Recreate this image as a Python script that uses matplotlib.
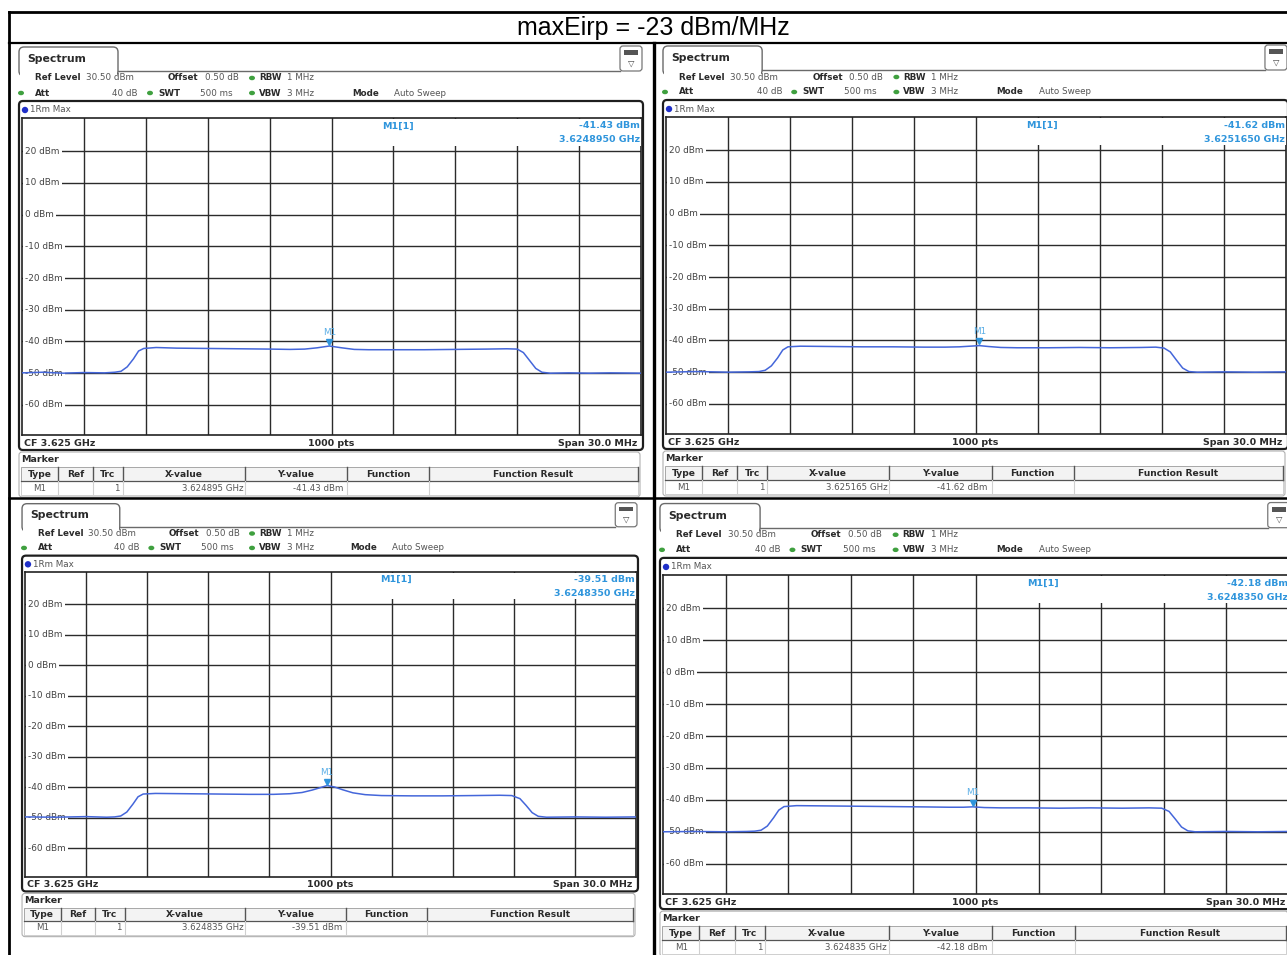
import matplotlib
matplotlib.use("Agg")
import matplotlib.pyplot as plt
from matplotlib.patches import FancyBboxPatch, Rectangle, Ellipse, Circle
import numpy as np

# ---------------- data ----------------
TITLE = "maxEirp = -23 dBm/MHz"
CENTER_GHZ = 3.625
SPAN_MHZ = 30.0
REF_LEVEL = 30.5
Y_TICKS = [20, 10, 0, -10, -20, -30, -40, -50, -60]
Y_TICK_LABELS = ["20 dBm", "10 dBm", "0 dBm", "-10 dBm", "-20 dBm", "-30 dBm",
                 "-40 dBm", "-50 dBm", "-60 dBm"]

TL_f = [-15, -14, -13, -12, -11, -10.5, -10.2, -9.9, -9.6, -9.35, -9.1, -8.5, -7.5, -6, -4.5, -3, -2,
        -1.3, -0.7, -0.105, 0.5, 1.1, 1.8, 3, 4.5, 6, 7.5, 8.5, 9.0, 9.3, 9.6, 9.9, 10.2, 10.6, 11.5,
        12.5, 13.5, 15]
TL_l = [-49.9, -49.7, -50.0, -49.8, -49.9, -49.7, -49.4, -48.0, -45.5, -43.0, -42.2, -41.9, -42.1,
        -42.2, -42.3, -42.4, -42.5, -42.4, -42.0, -41.43, -42.0, -42.5, -42.6, -42.6, -42.6, -42.5,
        -42.4, -42.3, -42.4, -43.5, -46.0, -48.5, -49.7, -50.0, -49.9, -50.0, -49.9, -50.0]

TR_f = [-15, -13.5, -12, -11, -10.5, -10.2, -9.9, -9.6, -9.35, -9.1, -8.5, -7, -5.5, -4, -2.5, -1.5,
        -0.8, -0.3, 0.165, 0.6, 1.2, 2, 3.5, 5, 6.5, 8, 8.7, 9.1, 9.4, 9.7, 10.0, 10.3, 10.7, 12,
        13.5, 15]
TR_l = [-50.0, -49.8, -50.0, -49.9, -49.8, -49.4, -48.0, -45.5, -43.0, -42.0, -41.8, -41.9, -42.0,
        -42.0, -42.1, -42.1, -42.0, -41.8, -41.62, -41.9, -42.2, -42.3, -42.3, -42.2, -42.3, -42.2,
        -42.1, -42.4, -43.6, -46.2, -48.7, -49.8, -50.0, -49.9, -50.0, -49.9]

BL_f = [-15, -13.5, -12, -11, -10.6, -10.3, -10.0, -9.7, -9.45, -9.2, -8.6, -7, -5.5, -4, -2.8, -2,
        -1.4, -0.9, -0.5, -0.165, 0.2, 0.6, 1.1, 1.7, 2.5, 4, 5.5, 7, 8.3, 8.9, 9.3, 9.6, 9.9, 10.2,
        10.6, 12, 13.5, 15]
BL_l = [-49.8, -49.9, -49.7, -49.9, -49.8, -49.5, -48.2, -45.6, -43.2, -42.3, -42.1, -42.2, -42.3,
        -42.4, -42.4, -42.2, -41.8, -41.0, -40.2, -39.51, -40.0, -40.9, -41.9, -42.5, -42.8, -42.9,
        -42.9, -42.8, -42.7, -42.8, -43.8, -46.0, -48.4, -49.6, -49.9, -49.8, -49.9, -49.8]

BR_f = [-15, -13.5, -12, -11, -10.6, -10.3, -10.0, -9.7, -9.45, -9.2, -8.6, -7, -5.5, -4, -2.5, -1.3,
        -0.6, -0.165, 0.4, 1.2, 2.5, 4, 5.5, 7, 8.3, 8.9, 9.25, 9.55, 9.85, 10.15, 10.5, 12, 13.5, 15]
BR_l = [-50.0, -49.9, -50.0, -49.9, -49.8, -49.5, -48.2, -45.6, -43.2, -42.1, -41.8, -41.9, -42.0,
        -42.1, -42.2, -42.3, -42.3, -42.18, -42.4, -42.5, -42.5, -42.6, -42.5, -42.6, -42.5, -42.6,
        -43.6, -46.0, -48.5, -49.7, -50.0, -49.9, -50.0, -49.9]

MARKER_X_GHZ = [3.624895, 3.625165, 3.624835, 3.624835]
MARKER_Y_DBM = [-41.43, -41.62, -39.51, -42.18]

ROW1 = [("Ref Level", 35, "bold"), ("30.50 dBm", 86, "normal"), ("Offset", 168, "bold"),
        ("0.50 dB", 205, "normal"), ("RBW", 259, "bold"), ("1 MHz", 287, "normal")]
ROW2 = [("Att", 35, "bold"), ("SWT", 158, "bold"), ("500 ms", 200, "normal"),
        ("VBW", 259, "bold"), ("3 MHz", 287, "normal"), ("Mode", 352, "bold"),
        ("Auto Sweep", 394, "normal")]
TABLE_HEAD = ["Type", "Ref", "Trc", "X-value", "Y-value", "Function", "Function Result"]
TABLE_COLS = [21, 58, 93, 123, 245, 347, 429, 638]

# ---------------- layout (pixel space) ----------------
W, H = 1287, 955
fig = plt.figure(figsize=(W / 100, H / 100), dpi=100)
bg = fig.add_axes([0, 0, 1, 1], zorder=0)
bg.set_xlim(0, W); bg.set_ylim(H, 0); bg.axis("off")
fg = fig.add_axes([0, 0, 1, 1], zorder=10)
fg.set_xlim(0, W); fg.set_ylim(H, 0); fg.axis("off"); fg.patch.set_alpha(0)

FONT = "DejaVu Sans"
TXT = "#2a2a2a"
VAL = "#555555"
BLUE = "#2f95dc"
TRACE = "#4466da"

panels = [
    dict(ox=22, oy=118, sx=1.0, sy=1.0, f=TL_f, l=TL_l),
    dict(ox=666, oy=117, sx=620 / 619, sy=1.0, f=TR_f, l=TR_l),
    dict(ox=25, oy=572, sx=611 / 619, sy=305 / 317, f=BL_f, l=BL_l),
    dict(ox=663, oy=575, sx=626 / 619, sy=319 / 317, f=BR_f, l=BR_l),
]


def draw_panel(p, mx_ghz, my_dbm):
    def T(x, y):
        return p["ox"] + p["sx"] * (x - 22), p["oy"] + p["sy"] * (y - 118)

    def box(ax, x0, y0, x1, y1, r=3, **kw):
        a, b = T(x0, y0); c, d = T(x1, y1)
        ax.add_patch(FancyBboxPatch((a, b), c - a, d - b,
                                    boxstyle=f"round,pad=0,rounding_size={r}", **kw))

    def text(ax, x, y, s, **kw):
        a, b = T(x, y)
        kw.setdefault("va", "center")
        kw.setdefault("family", FONT)
        ax.text(a, b, s, **kw)

    def dot(x, y):
        a, b = T(x, y)
        bg.add_patch(Ellipse((a, b), 6, 4.5, fc="#3fa03f", ec="none"))

    # tab
    box(bg, 19, 47, 118, 76, r=5, fc="white", ec="#6a6a6a", lw=1.0)
    a, b = T(20, 71); c, d = T(117, 80)
    bg.add_patch(Rectangle((a, b), c - a, d - b, fc="white", ec="none", zorder=3))
    a, b = T(118, 71); c, _ = T(620, 71)
    bg.plot([a, c], [b, b], color="#6a6a6a", lw=1.0, zorder=4)
    text(bg, 27, 59, "Spectrum", fontsize=7.8, weight="bold", color=TXT, zorder=5)
    # icon
    box(bg, 620, 46, 642, 71, r=3, fc="white", ec="#777", lw=0.9)
    a, b = T(624, 50); c, d = T(638, 55)
    bg.add_patch(Rectangle((a, b), c - a, d - b, fc="#555", ec="none", zorder=5))
    text(bg, 631, 63, "\u25BD", fontsize=6, ha="center", color="#444", zorder=5)

    # settings rows
    for s, x, wgt in ROW1:
        text(bg, x, 78, s, fontsize=6.3, weight=wgt, color=TXT if wgt == "bold" else VAL)
    for s, x, wgt in ROW2:
        text(bg, x, 93, s, fontsize=6.3, weight=wgt, color=TXT if wgt == "bold" else VAL)
    text(bg, 138, 93, "40 dB", fontsize=6.3, ha="right", color=VAL)
    dot(252, 78); dot(21, 93); dot(150, 93); dot(252, 93)

    # diagram frame
    box(bg, 19, 101, 643, 450, r=4, fc="white", ec="#1e1e1e", lw=1.6)
    a, b = T(25, 110)
    bg.add_patch(Circle((a, b), 3.2, fc="#1f2fc8", ec="none", zorder=5))
    text(bg, 30, 110, "1Rm Max", fontsize=6.3, color=VAL)
    text(bg, 24, 443, "CF 3.625 GHz", fontsize=6.8, weight="bold", color=TXT)
    text(bg, 331, 443, "1000 pts", fontsize=6.8, weight="bold", color=TXT, ha="center")
    text(bg, 637, 443, "Span 30.0 MHz", fontsize=6.8, weight="bold", color=TXT, ha="right")

    # marker table
    box(bg, 19, 452, 640, 497, r=3, fc="white", ec="#b0b0b0", lw=0.8)
    text(bg, 21, 459, "Marker", fontsize=6.8, weight="bold", color=TXT)
    a, b = T(TABLE_COLS[0], 467); c, d = T(TABLE_COLS[-1], 481)
    bg.add_patch(Rectangle((a, b), c - a, d - b, fc="#f3f3f3", ec="#9a9a9a", lw=0.6, zorder=2))
    a2, b2 = T(TABLE_COLS[0], 481); c2, d2 = T(TABLE_COLS[-1], 495)
    bg.add_patch(Rectangle((a2, b2), c2 - a2, d2 - b2, fc="white", ec="#c8c8c8", lw=0.6, zorder=2))
    bg.plot([a, c], [d, d], color="#555", lw=0.9, zorder=3)
    for cx in TABLE_COLS[1:-1]:
        u, v = T(cx, 467); _, v2 = T(cx, 481); _, v3 = T(cx, 495)
        bg.plot([u, u], [v, v2], color="#555", lw=1.0, zorder=3)
        bg.plot([u, u], [v2, v3], color="#d0d0d0", lw=0.8, zorder=3)
    u, v = T(TABLE_COLS[-1], 467)
    bg.plot([u, u], [v, v2], color="#555", lw=1.0, zorder=3)
    for i, h in enumerate(TABLE_HEAD):
        xc = (TABLE_COLS[i] + TABLE_COLS[i + 1]) / 2
        text(bg, xc, 474, h, fontsize=6.6, weight="bold", color=TXT, ha="center", zorder=4)
    text(bg, 40, 488, "M1", fontsize=6.2, color=VAL, ha="center", zorder=4)
    text(bg, 120, 488, "1", fontsize=6.2, color=VAL, ha="right", zorder=4)
    text(bg, 243, 488, f"{mx_ghz:.6f} GHz", fontsize=6.2, color=VAL, ha="right", zorder=4)
    text(bg, 343, 488, f"{my_dbm:.2f} dBm", fontsize=6.2, color=VAL, ha="right", zorder=4)

    # spectrum axes
    x0, y0 = T(22, 118); x1, y1 = T(641, 435)
    ax = fig.add_axes([x0 / W, 1 - y1 / H, (x1 - x0) / W, (y1 - y0) / H], zorder=5)
    ax.set_xlim(-SPAN_MHZ / 2, SPAN_MHZ / 2)
    ax.set_ylim(REF_LEVEL - 100, REF_LEVEL)
    ax.set_xticks([]); ax.set_yticks([])
    for s in ax.spines.values():
        s.set_color("#222"); s.set_linewidth(1.2)
    for xv in np.linspace(-15, 15, 11)[1:-1]:
        ax.axvline(xv, color="#2b2b2b", lw=1.0, zorder=1)
    for yv, lab in zip(Y_TICKS, Y_TICK_LABELS):
        ax.axhline(yv, color="#2b2b2b", lw=1.0, zorder=1)
        ax.text(-14.85, yv, lab, va="center", ha="left", fontsize=6.4, color="#444",
                family=FONT, zorder=3,
                bbox=dict(fc="white", ec="none", pad=1.4))
    ax.plot(p["f"], p["l"], color=TRACE, lw=1.1, zorder=4, solid_joinstyle="round")
    mf = (mx_ghz - CENTER_GHZ) * 1000
    ax.plot([mf], [my_dbm + 1.3], marker="v", ms=5, color=BLUE, zorder=6, ls="none")
    ax.text(mf, my_dbm + 4.4, "M1", ha="center", va="center", fontsize=6.4,
            color="#5aaee6", family=FONT, zorder=6)

    # marker readout (white box over grid)
    a, b = T(381, 119); c, d = T(641, 146)
    fg.add_patch(Rectangle((a, b), c - a, d - b, fc="white", ec="none"))
    text(fg, 382, 126, "M1[1]", fontsize=6.8, weight="bold", color=BLUE)
    text(fg, 640, 126, f"{my_dbm:.2f} dBm", fontsize=6.8, weight="bold", color=BLUE, ha="right")
    text(fg, 640, 140, f"{mx_ghz:.7f} GHz", fontsize=6.8, weight="bold", color=BLUE, ha="right")


for p, mx, my in zip(panels, MARKER_X_GHZ, MARKER_Y_DBM):
    draw_panel(p, mx, my)

# outer table
fg.plot([9, W], [12, 12], color="k", lw=2.0)
fg.plot([9, 9], [12, H], color="k", lw=2.0)
fg.plot([9, W], [43, 43], color="k", lw=1.6)
fg.plot([654, 654], [43, H], color="k", lw=2.4)
fg.plot([9, W], [498, 498], color="k", lw=1.8)
fg.text(653, 28, TITLE, ha="center", va="center", fontsize=18, family="Liberation Sans", color="k")

fig.savefig("out.png", dpi=100, facecolor="white")
